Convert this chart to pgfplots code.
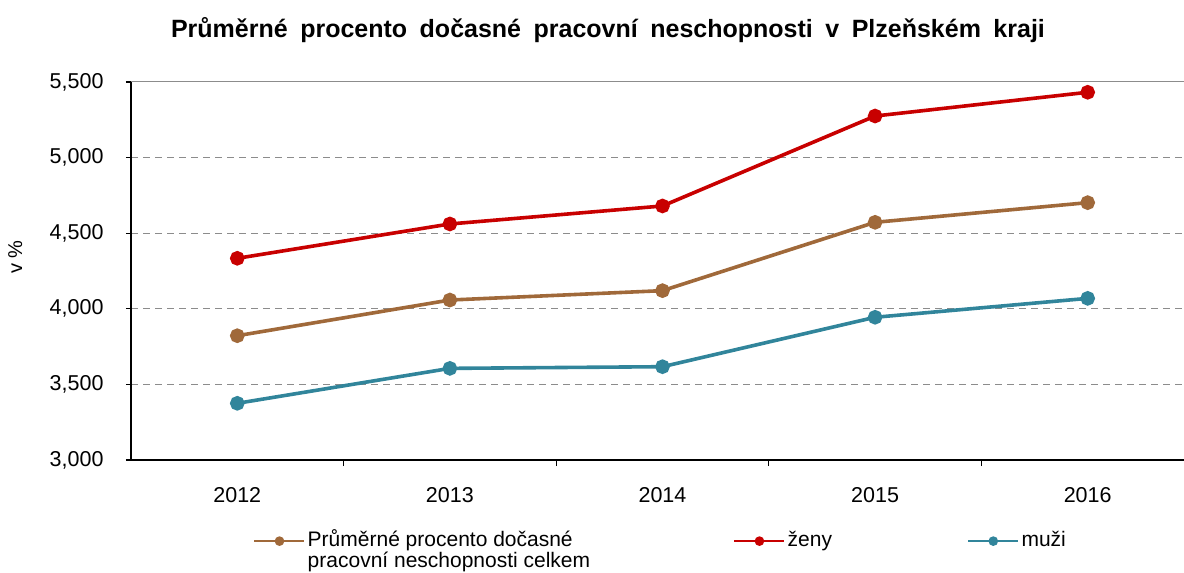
\documentclass[border=0pt]{standalone}
\usepackage{fontspec}
\setmainfont{Liberation Sans}
\usepackage{pgfplots}
\pgfplotsset{compat=1.18}
\definecolor{cred}{RGB}{200,0,0}
\definecolor{cbrown}{RGB}{160,105,58}
\definecolor{cteal}{RGB}{49,133,155}
\definecolor{cgrid}{RGB}{140,140,140}
\newcommand\fs{\fontsize{21.5bp}{25bp}\selectfont}
\newcommand\fl{\fontsize{21bp}{20bp}\selectfont}
\begin{document}
\begin{tikzpicture}
\begin{axis}[
  at={(131bp,113bp)}, anchor=south west,
  scale only axis, width=1063bp, height=378bp,
  xmin=-0.5, xmax=4.5, ymin=3, ymax=5.5,
  clip=false,
  axis x line*=bottom, axis y line*=left,
  axis line style={black, line width=1.3bp},
  xtick={0,1,2,3,4}, xticklabels={2012,2013,2014,2015,2016},
  minor xtick={0.5,1.5,2.5,3.5},
  major x tick style={draw=none},
  minor x tick style={black, line width=1.3bp},
  major y tick style={black, line width=1.3bp},
  minor tick length=6bp, major tick length=5bp,
  tick align=outside,
  ytick={3,3.5,4,4.5,5}, yticklabels={3{,}000,3{,}500,4{,}000,4{,}500,5{,}000},
  extra y ticks={5.5}, extra y tick labels={5{,}500},
  extra y tick style={major grid style={draw=cgrid, solid, line width=1bp}},
  ymajorgrids,
  major grid style={draw=cgrid, line width=1.1bp, dash pattern=on 7bp off 5bp},
  tick label style={font=\fs},
  xticklabel style={yshift=-19bp},
  yticklabel style={xshift=-19bp},
  every axis y label/.style={at={(axis description cs:-0.109,0.537)}, rotate=90, anchor=center, font=\fontsize{20bp}{22bp}\selectfont},
  ylabel={v \%},
  legend columns=3,
  legend style={draw=none, fill=none, at={(0.112,-0.172)}, anchor=north west, font=\fl,
    cells={anchor=base west},
    /tikz/column 2/.style={column sep=141bp},
    /tikz/column 4/.style={column sep=133bp}},
  legend image code/.code={\draw[mark repeat=2, mark phase=2, line width=2.5bp, mark size=3.5bp] plot coordinates {(0bp,5bp)(25bp,5bp)(50bp,5bp)};},
]
\addplot[cbrown, line width=3.6bp, mark=*, mark size=5.5bp] coordinates {(0,3.822)(1,4.058)(2,4.120)(3,4.572)(4,4.702)};
\addlegendentry{\begin{tabular}[t]{@{}l@{}}Průměrné procento dočasné\\ pracovní neschopnosti celkem\end{tabular}}
\addplot[cred, line width=3.6bp, mark=*, mark size=5.5bp] coordinates {(0,4.334)(1,4.561)(2,4.680)(3,5.275)(4,5.432)};
\addlegendentry{ženy}
\addplot[cteal, line width=3.6bp, mark=*, mark size=5.5bp] coordinates {(0,3.375)(1,3.606)(2,3.617)(3,3.944)(4,4.069)};
\addlegendentry{muži}
\end{axis}
\node[font=\bfseries\fontsize{25bp}{28bp}\selectfont] at (608bp,543bp) {\spaceskip=0.5em Průměrné procento dočasné pracovní neschopnosti v Plzeňském kraji};
\pgfresetboundingbox
\path (0,0) rectangle (1184bp,573bp);
\end{tikzpicture}
\end{document}
